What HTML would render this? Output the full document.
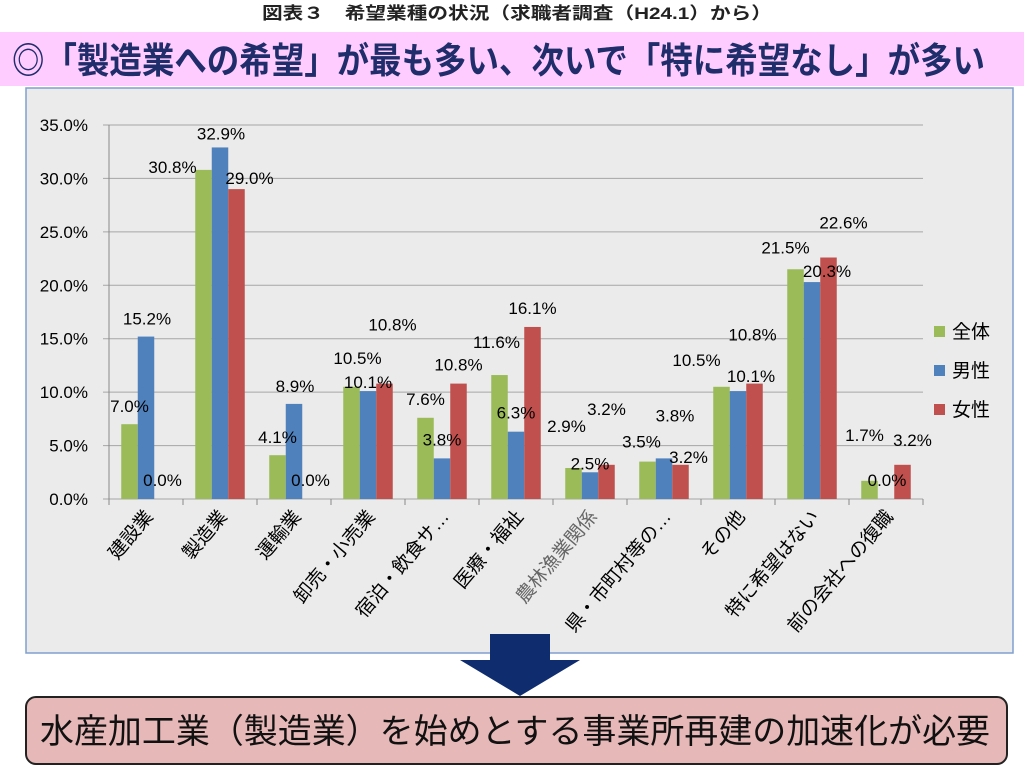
<!DOCTYPE html>
<html><head><meta charset="utf-8">
<style>
body{margin:0;width:1024px;height:766px;background:#fff;overflow:hidden;font-family:"Liberation Sans","Noto Sans CJK JP",sans-serif;}
</style></head>
<body>
<svg width="1024" height="766" xmlns="http://www.w3.org/2000/svg" font-family="Liberation Sans, Noto Sans CJK JP, sans-serif">
<text x="262" y="19" font-size="17" font-weight="bold" fill="#222" textLength="510" lengthAdjust="spacingAndGlyphs">図表３　希望業種の状況（求職者調査（H24.1）から）</text>
<rect x="0" y="32" width="1024" height="54" fill="#ffccff"/>
<text x="12" y="73" font-size="36" font-weight="bold" fill="#1f2d6b" textLength="973" lengthAdjust="spacingAndGlyphs">◎「製造業への希望」が最も多い、次いで「特に希望なし」が多い</text>
<rect x="26" y="88" width="987" height="565" fill="#ebebeb" stroke="#7f9fcf" stroke-width="1.5"/>
<g id="grid"></g>
<g id="bars"></g>
<g id="labels"></g>
<g font-size="19" fill="#000">
<rect x="934" y="326" width="11" height="11" fill="#9bbb59"/><text x="952" y="338">全体</text>
<rect x="934" y="365" width="11" height="11" fill="#4f81bd"/><text x="952" y="377">男性</text>
<rect x="934" y="404" width="11" height="11" fill="#c0504d"/><text x="952" y="416">女性</text>
</g>
<polygon points="490,634 550,634 550,660 580,660 520,696 460,660 490,660" fill="#0f2d6e"/>
<rect x="26" y="697" width="981" height="67" rx="10" fill="#e6b8b7" stroke="#222" stroke-width="2"/>
<text x="40" y="743" font-size="34" fill="#111" textLength="950" lengthAdjust="spacingAndGlyphs">水産加工業（製造業）を始めとする事業所再建の加速化が必要</text>
</svg>
<script>
const categories=["建設業","製造業","運輸業","卸売・小売業","宿泊・飲食サ…","医療・福祉","農林漁業関係","県・市町村等の…","その他","特に希望はない","前の会社への復職"];
const total=[7.0,30.8,4.1,10.5,7.6,11.6,2.9,3.5,10.5,21.5,1.7];
const male=[15.2,32.9,8.9,10.1,3.8,6.3,2.5,3.8,10.1,20.3,0.0];
const female=[0.0,29.0,0.0,10.8,10.8,16.1,3.2,3.2,10.8,22.6,3.2];
const ticks=[0,5,10,15,20,25,30,35];
// label layout offsets (px) relative to bar top/center
const totalOff=[[0,-18],[-31,-3],[0,-18],[6,-29],[0,-19],[-3,-33],[-7,-42],[-6,-20],[-25,-27],[-10,-22],[-5,-46]];
const maleOff=[[1,-18],[1,-14],[1,-18],[0,-9],[0,-19],[0,-19],[0,-9],[11,-43],[13,-15],[15,-11],[1,-19]];
const femaleOff=[[0,-19],[13,-11],[0,-19],[8,-59],[0,-19],[0,-19],[0,-56],[8,-8],[-2,-49],[15,-35],[10,-25]];
const NS="http://www.w3.org/2000/svg";
const x0=109,step=74,y0=499,yTop=125,vmax=35;
const y=v=>y0-(v/vmax)*(y0-yTop);
function mk(t,a,p){const e=document.createElementNS(NS,t);for(const k in a)e.setAttribute(k,a[k]);p.appendChild(e);return e;}
const grid=document.getElementById('grid'),bars=document.getElementById('bars'),labels=document.getElementById('labels');
ticks.forEach(t=>{
 const l=mk('line',{x1:103,x2:923,y1:y(t),y2:y(t),stroke:'#a6a6a6','stroke-width':1},grid);
 
 
 const tx=mk('text',{x:88,y:y(t)+6,'text-anchor':'end','font-size':17},grid);
 tx.textContent=t.toFixed(1)+'%';
 
 
});
mk('line',{x1:x0,x2:x0,y1:yTop,y2:y0+6,stroke:'#888'},grid);
for(let i=0;i<=categories.length;i++)mk('line',{x1:x0+i*step,x2:x0+i*step,y1:y0,y2:y0+6,stroke:'#888'},grid);
const series=[[total,'#9bbb59','total',totalOff],[male,'#4f81bd','male',maleOff],[female,'#c0504d','female',femaleOff]];
const bw=16.5;
categories.forEach((c,i)=>{
 const cx=x0+i*step+step/2;
 series.forEach((s,j)=>{
  const v=s[0][i];const bx=cx-bw*1.5+j*bw;
  const r=mk('rect',{x:bx,y:y(v),width:bw,height:y0-y(v),fill:s[1]},bars);
  
  
  const o=s[3][i]||[0,-19];
  const t=mk('text',{x:bx+bw/2+o[0],y:y(v)+o[1]+6,'text-anchor':'middle','font-size':17},labels);
  t.textContent=v.toFixed(1)+'%';
  
  
 });
 const lx=cx+8,ly=y0+18;
 const ct=mk('text',{x:lx,y:ly,'text-anchor':'end','font-size':19,fill:(i===6?'#666':'#000'),transform:`rotate(-50 ${lx} ${ly})`},labels);
 ct.textContent=c;
 
 
});
</script>
</body></html>
